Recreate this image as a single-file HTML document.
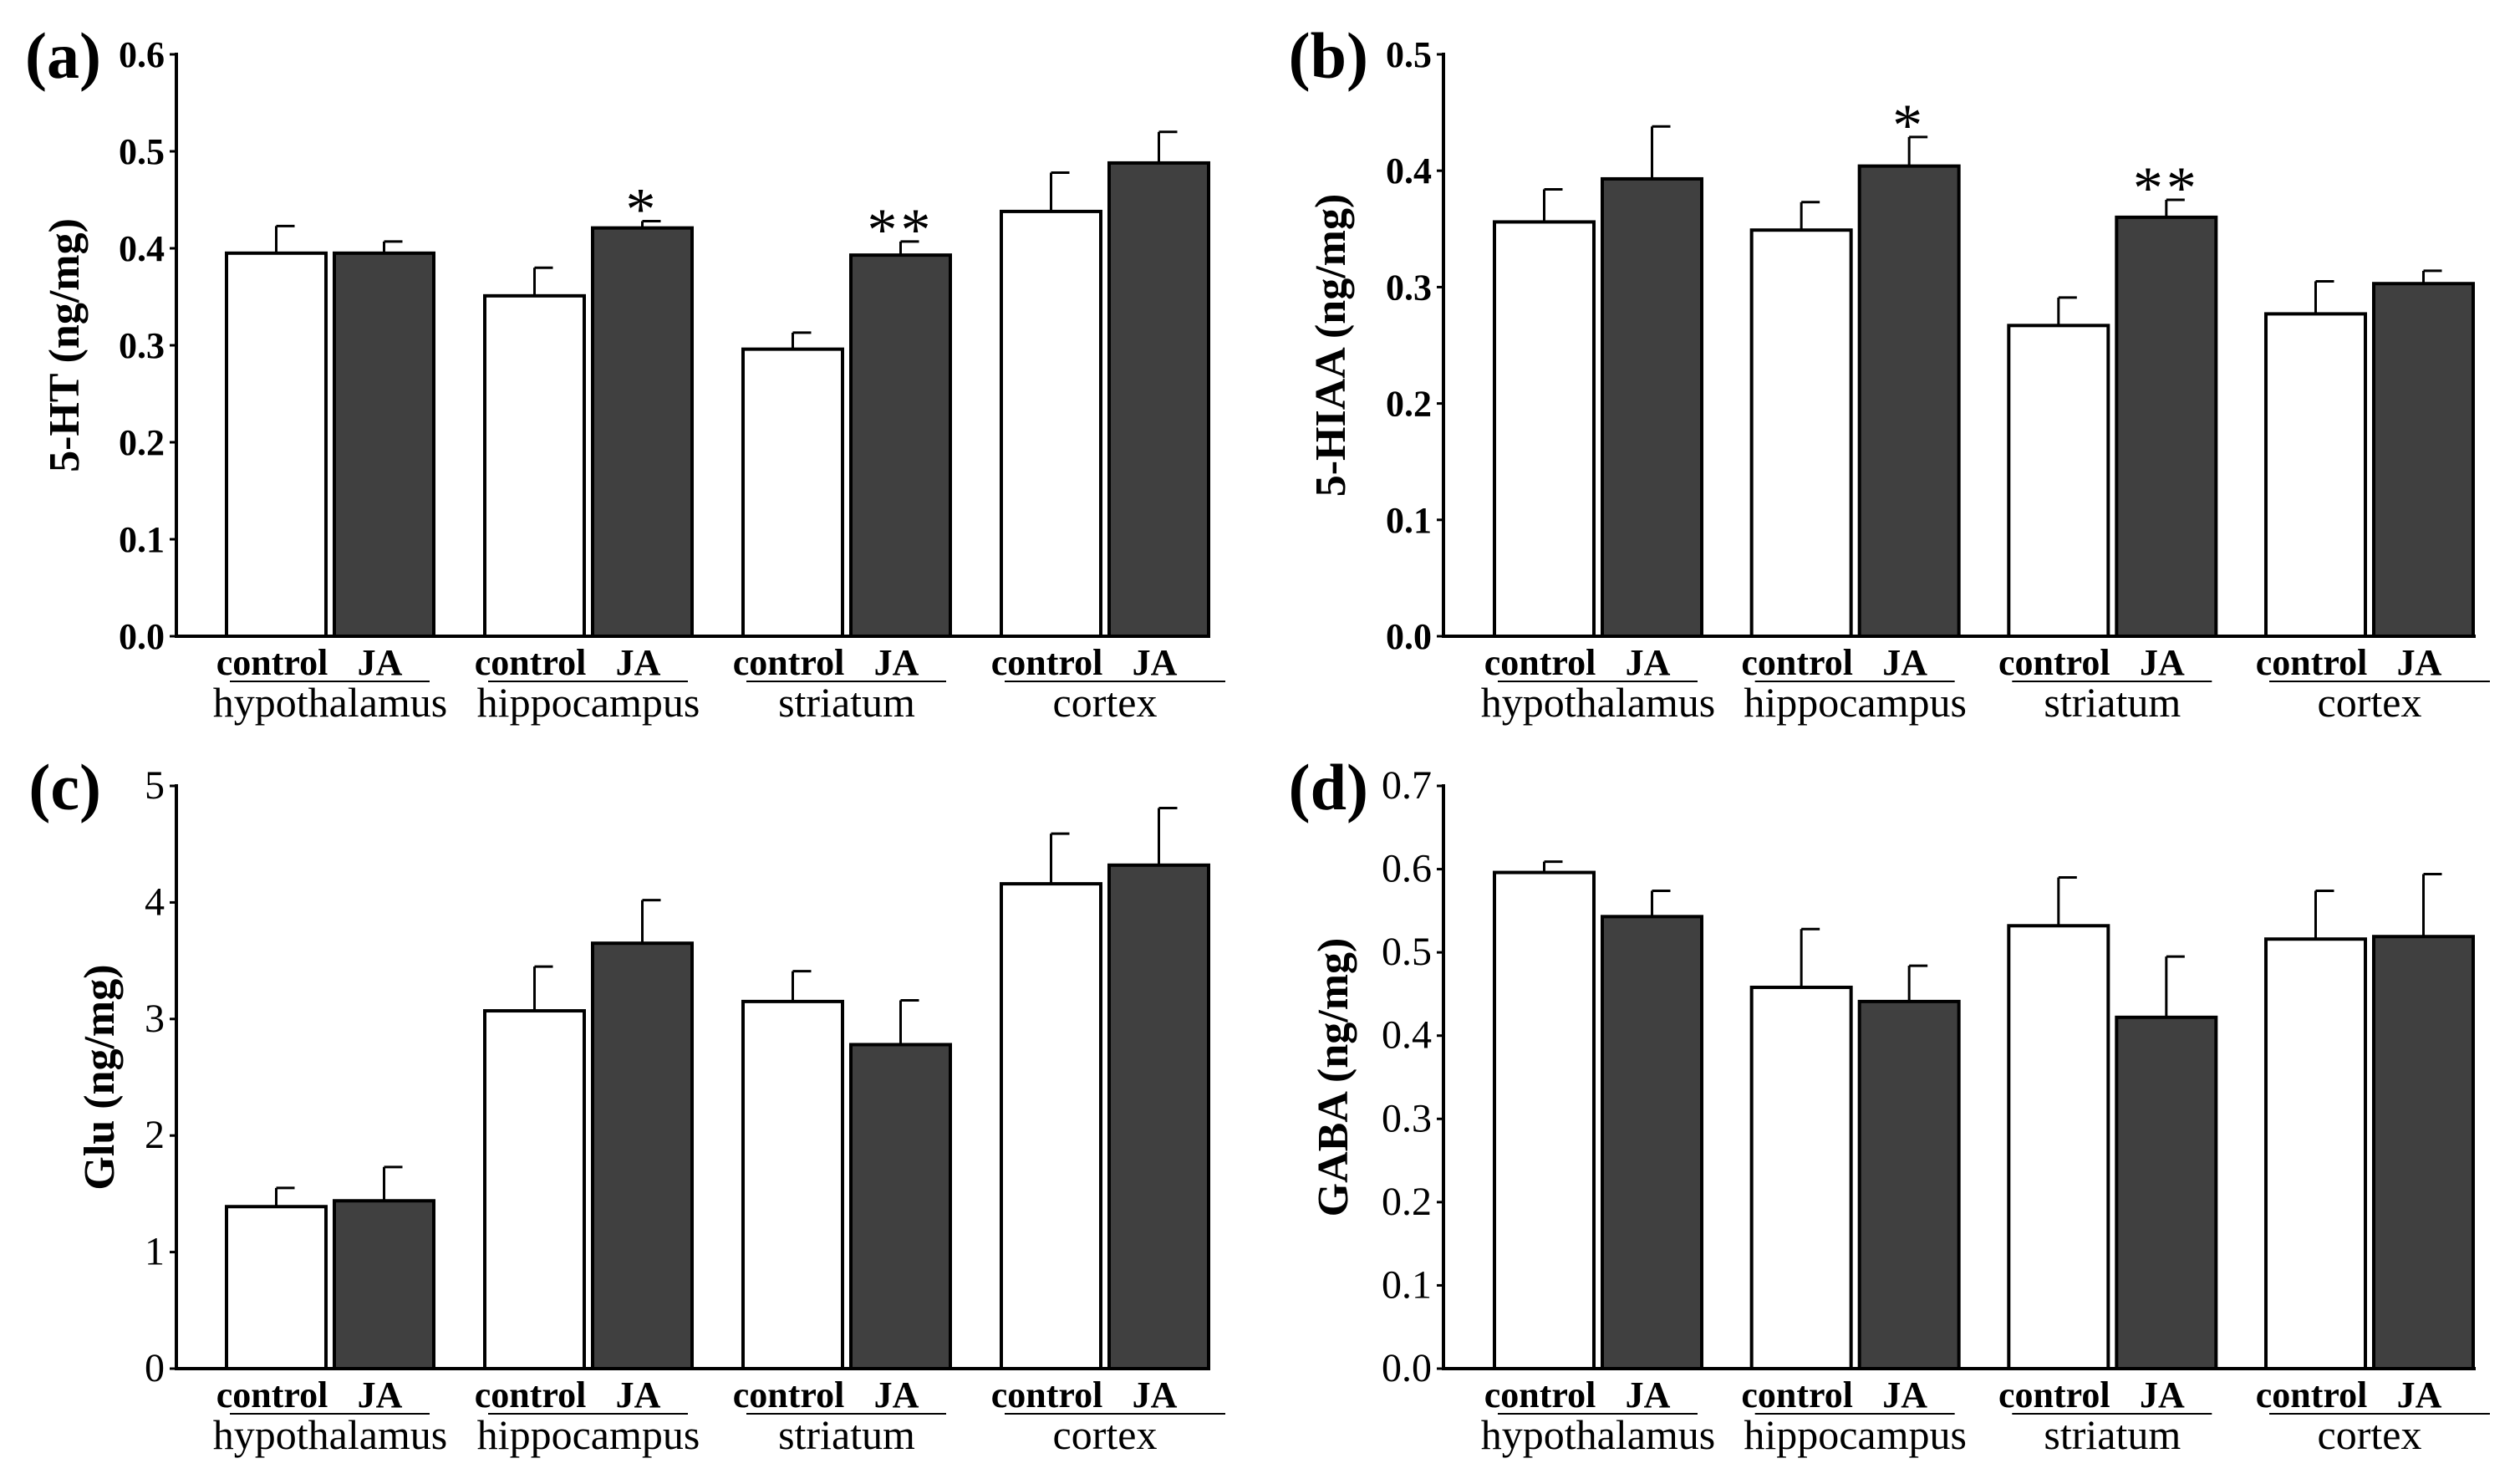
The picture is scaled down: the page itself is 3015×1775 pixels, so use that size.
<!DOCTYPE html>
<html><head><meta charset="utf-8"><style>
body{margin:0;background:#fff}
svg{display:block}
text{font-family:"Liberation Serif",serif;fill:#000}
</style></head><body>
<svg id="fig" width="3015" height="1775" viewBox="0 0 3015 1775" xmlns="http://www.w3.org/2000/svg"></svg>
<script>
const regions=["hypothalamus","hippocampus","striatum","cortex"];
const aCtrl=[0.395,0.351,0.296,0.438], aCtrlErr=[0.423,0.380,0.313,0.478];
const aJA=[0.395,0.421,0.393,0.488], aJAErr=[0.407,0.428,0.407,0.520];
const aTicks=["0.0","0.1","0.2","0.3","0.4","0.5","0.6"];
const bCtrl=[0.356,0.349,0.267,0.277], bCtrlErr=[0.384,0.373,0.291,0.305];
const bJA=[0.393,0.404,0.360,0.303], bJAErr=[0.438,0.429,0.375,0.314];
const bTicks=["0.0","0.1","0.2","0.3","0.4","0.5"];
const cCtrl=[1.39,3.07,3.15,4.16], cCtrlErr=[1.55,3.45,3.41,4.59];
const cJA=[1.44,3.65,2.78,4.32], cJAErr=[1.73,4.02,3.16,4.81];
const cTicks=["0","1","2","3","4","5"];
const dCtrl=[0.596,0.458,0.532,0.516], dCtrlErr=[0.609,0.528,0.590,0.574];
const dJA=[0.543,0.441,0.422,0.519], dJAErr=[0.574,0.484,0.495,0.594];
const dTicks=["0.0","0.1","0.2","0.3","0.4","0.5","0.6","0.7"];
const aStars=["","*","**",""], bStars=["","*","**",""];

const NS="http://www.w3.org/2000/svg";
const svg=document.getElementById('fig');
function mk(tag,attrs,parent,txt){const e=document.createElementNS(NS,tag);for(const k in attrs)e.setAttribute(k,attrs[k]);if(txt!==undefined)e.textContent=txt;(parent||svg).appendChild(e);return e;}

function panel(o){
  const g=mk('g',{});
  
  
  const max=parseFloat(o.ticks[o.ticks.length-1]);
  const y=v=>o.y0-(v/max)*(o.y0-o.yTop);
  const x0=o.ax;
  const pl=mk('text',{x:o.ax-90,y:o.yTop+28,'font-size':78,'font-weight':'bold','text-anchor':'end'},g,'('+o.id+')');
  
  
  const yt=mk('text',{x:0,y:0,'font-size':52,'font-weight':'bold','text-anchor':'middle',transform:`translate(${o.titleX},${(o.y0+o.yTop)/2}) rotate(-90)`},g,o.title);
  
  
  o.ticks.forEach(t=>{
    const v=parseFloat(t), ty=y(v);
    const tk=mk('line',{x1:x0-8,x2:x0,y1:ty,y2:ty,stroke:'#000','stroke-width':3},g);
    
    
    const tl=mk('text',{x:x0-14,y:ty+15,'font-size':o.boldTicks?44:48,'font-weight':o.boldTicks?'bold':'normal','text-anchor':'end'},g,t);
    
    
  });
  const bw=119, pitch=(o.groupX[3]-o.groupX[0])/3;
  regions.forEach((r,i)=>{
    const gx=o.groupX[0]+i*pitch;
    const series=[[o.ctrl[i],o.ctrlErr[i],'#fff',gx],[o.ja[i],o.jaErr[i],'#404040',gx+bw+10]];
    series.forEach((s,k)=>{
      const bx=s[3], top=y(s[0]), et=y(s[1]), cx=bx+bw/2;
      const el=mk('line',{x1:cx,x2:cx,y1:top,y2:et,stroke:'#000','stroke-width':3},g);
      
      
      const cp=mk('line',{x1:cx,x2:cx+22,y1:et,y2:et,stroke:'#000','stroke-width':3},g);
      
      
      const b=mk('rect',{x:bx,y:top,width:bw,height:o.y0-top,fill:s[2],stroke:'#000','stroke-width':4},g);
      
      
      if(k===1&&o.stars&&o.stars[i]){
        const st=mk('text',{x:cx,y:et+10,'font-size':72,'text-anchor':'middle','letter-spacing':4},g,o.stars[i]);
        
        
      }
    });
    const c1=mk('text',{x:gx+bw/2-5,y:o.y0+46,'font-size':44,'font-weight':'bold','text-anchor':'middle'},g,'control');
    
    
    const c2=mk('text',{x:gx+bw*1.5+5,y:o.y0+46,'font-size':44,'font-weight':'bold','text-anchor':'middle'},g,'JA');
    
    
    const ul=mk('line',{x1:gx+4,x2:gx+2*bw+10+(i==3?20:-5),y1:o.y0+54,y2:o.y0+54,stroke:'#000','stroke-width':2},g);
    
    
    const rl=mk('text',{x:gx+bw+5,y:o.y0+96,'font-size':50,'text-anchor':'middle'},g,r);
    
    
  });
  const ya=mk('line',{x1:x0,x2:x0,y1:o.yTop-2,y2:o.y0+2,stroke:'#000','stroke-width':4},g);
  
  
  const xa=mk('line',{x1:x0,x2:o.xEnd,y1:o.y0,y2:o.y0,stroke:'#000','stroke-width':4},g);
  
  
}
panel({id:'a',ax:211,yTop:65,y0:761,xEnd:1448,groupX:[271,581,889,1198],ctrl:aCtrl,ctrlErr:aCtrlErr,ja:aJA,jaErr:aJAErr,ticks:aTicks,title:'5-HT (ng/mg)',titleX:94,boldTicks:true,stars:aStars});
panel({id:'b',ax:1727,yTop:65,y0:761,xEnd:2962,groupX:[1788,2096,2404,2711],ctrl:bCtrl,ctrlErr:bCtrlErr,ja:bJA,jaErr:bJAErr,ticks:bTicks,title:'5-HIAA (ng/mg)',titleX:1609,boldTicks:true,stars:bStars});
panel({id:'c',ax:211,yTop:940,y0:1637,xEnd:1448,groupX:[271,581,889,1198],ctrl:cCtrl,ctrlErr:cCtrlErr,ja:cJA,jaErr:cJAErr,ticks:cTicks,title:'Glu (ng/mg)',titleX:136,boldTicks:false});
panel({id:'d',ax:1727,yTop:940,y0:1637,xEnd:2962,groupX:[1788,2096,2404,2711],ctrl:dCtrl,ctrlErr:dCtrlErr,ja:dJA,jaErr:dJAErr,ticks:dTicks,title:'GABA (ng/mg)',titleX:1612,boldTicks:false});
</script>
</body></html>
